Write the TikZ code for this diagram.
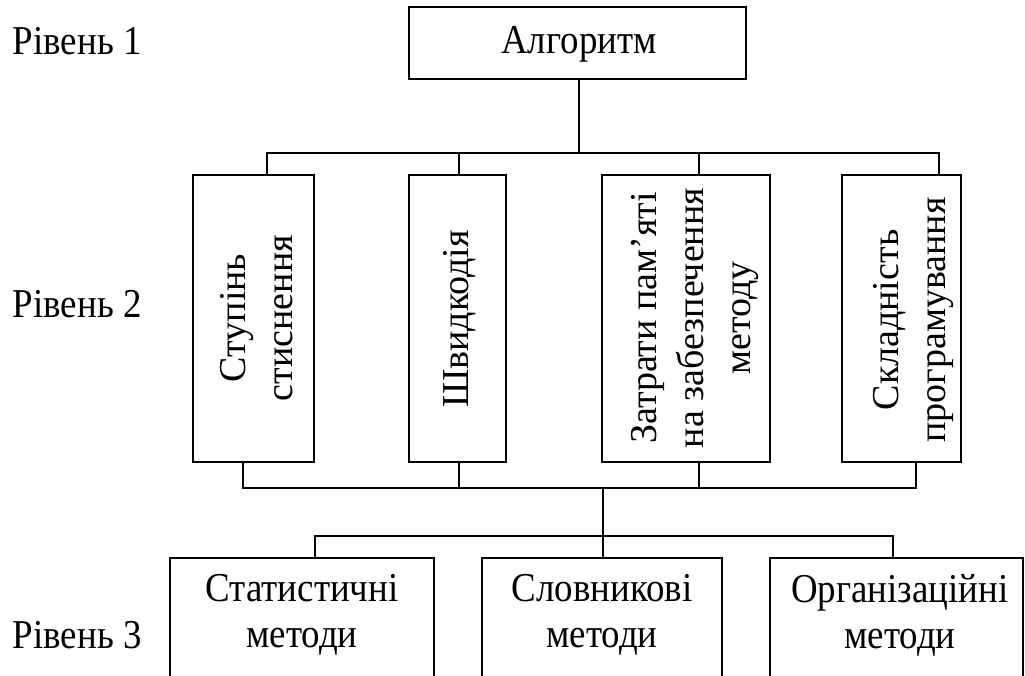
\documentclass[tikz,border=0pt]{standalone}
\usepackage{fontspec}
\setmainfont{Liberation Serif}
\newfontfamily\narrowserif{Liberation Serif}[FakeStretch=0.9]
\begin{document}
\begin{tikzpicture}[x=1pt, y=-1pt,
  wire/.style={line width=1.8pt, line cap=rect},
  box/.style={draw, line width=1.8pt, inner sep=0pt},
  txt/.style={inner sep=0pt, font=\narrowserif\fontsize{41pt}{46pt}\selectfont},
  vtxt/.style={inner sep=0pt, rotate=90, align=center,
    font=\rmfamily\fontsize{38pt}{47pt}\selectfont},
  htxt/.style={txt, align=center}]
  \useasboundingbox (0,0) rectangle (1025,675);

  % level labels
  \node[txt, anchor=base west] (r1) at (12.7,54) {Рівень 1};
  \node[txt, anchor=base west] (r2) at (12.7,317.7) {Рівень 2};
  \node[txt, anchor=base west] (r3) at (12.7,648) {Рівень 3};

  % level 1
  \node[box, minimum width=337, minimum height=72] (top) at (577.5,43) {};
  \node[txt, anchor=base] (ttop) at (579,53) {Алгоритм};

  % level 2
  \node[box, minimum width=121, minimum height=287] (b1) at (253.5,318.5) {};
  \node[box, minimum width=97,  minimum height=287] (b2) at (457.5,318.5) {};
  \node[box, minimum width=168, minimum height=287] (b3) at (686,318.5) {};
  \node[box, minimum width=119, minimum height=287] (b4) at (901.5,318.5) {};
  \node[vtxt] (t1) at (256.5,318) {Ступінь\\стиснення};
  \node[vtxt] (t2) at (459.5,319) {Швидкодія};
  \node[vtxt] (t3) at (695,318) {Затрати пам’яті\\на забезпечення\\методу};
  \node[vtxt] (t4) at (914,320) {Складність\\програмування};

  % level 3 (boxes run past the lower edge)
  \node[box, minimum width=264, minimum height=142] (c1) at (302,629) {};
  \node[box, minimum width=240, minimum height=142] (c2) at (602,629) {};
  \node[box, minimum width=253, minimum height=142] (c3) at (896.5,629) {};
  \node[htxt, anchor=north] (s1) at (302,574) {Статистичні\\методи};
  \node[htxt, anchor=north] (s2) at (602,574) {Словникові\\методи};
  \node[htxt, anchor=north] (s3) at (900,574) {Організаційні\\методи};

  % bus between level 1 and level 2
  \coordinate (j0) at (579,153);
  \coordinate (u1) at (266.7,153);
  \coordinate (u2) at (459,153);
  \coordinate (u3) at (699.3,153);
  \coordinate (u4) at (939.3,153);
  \draw[wire] (top.south -| j0) -- (j0);
  \draw[wire] (u1 |- b1.north) -- (u1) -- (u4) -- (u4 |- b4.north);
  \draw[wire] (u2) -- (u2 |- b2.north);
  \draw[wire] (u3) -- (u3 |- b3.north);

  % bus below level 2
  \coordinate (l1) at (243,488);
  \coordinate (l2) at (459,488);
  \coordinate (l3) at (699,488);
  \coordinate (l4) at (916,488);
  \draw[wire] (l1 |- b1.south) -- (l1) -- (l4) -- (l4 |- b4.south);
  \draw[wire] (l2 |- b2.south) -- (l2);
  \draw[wire] (l3 |- b3.south) -- (l3);

  % bus to level 3
  \coordinate (m0) at (603,488);
  \coordinate (v1) at (315,536);
  \coordinate (v2) at (603,536);
  \coordinate (v3) at (893,536);
  \draw[wire] (m0) -- (v2) -- (v2 |- c2.north);
  \draw[wire] (v1 |- c1.north) -- (v1) -- (v3) -- (v3 |- c3.north);
\end{tikzpicture}
\end{document}
